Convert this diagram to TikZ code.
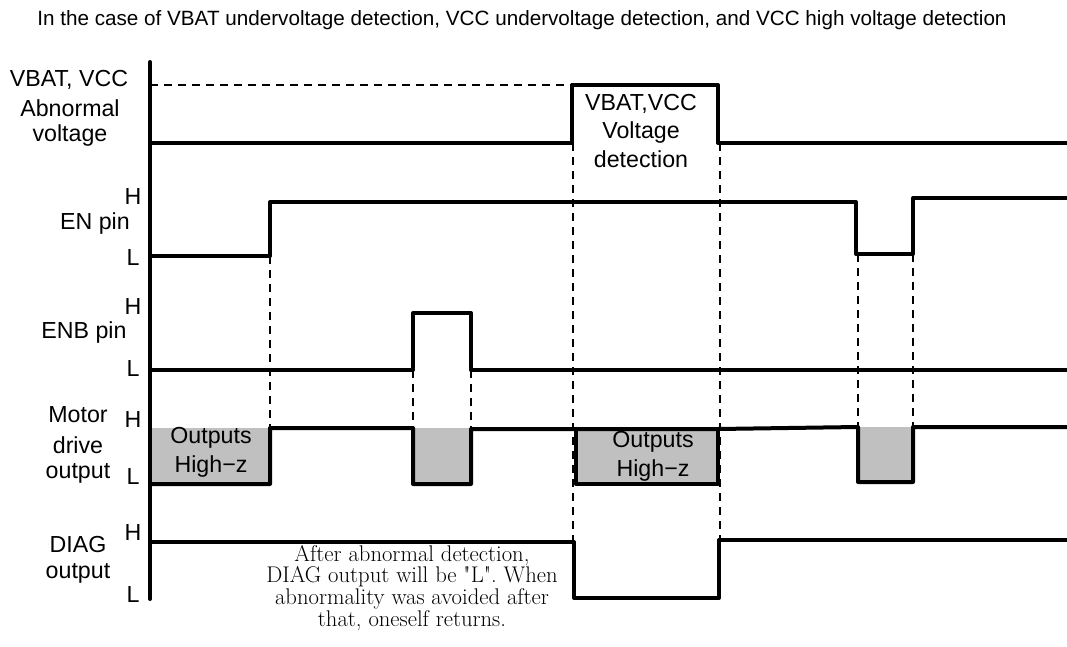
\documentclass[tikz,border=0pt]{standalone}
\usepackage{fontspec}
\setsansfont{Liberation Sans}
\usetikzlibrary{calc}
\definecolor{hizgray}{HTML}{C0C0C0}
\tikzset{
  sig/.style={line width=3pt, line join=round, line cap=round},
  guide/.style={line width=0.8pt, dash pattern=on 6pt off 4.5pt},
  lbl/.style={font=\sffamily\fontsize{17.4}{20}\selectfont, inner sep=0pt, align=center},
  lvl/.style={font=\sffamily\fontsize{17.4}{20}\selectfont, inner sep=0pt},
  boxtxt/.style={font=\sffamily\fontsize{17.4}{21.5}\selectfont, inner sep=0pt, align=center},
  note/.style={font=\rmfamily\fontsize{17}{16.3}\selectfont, inner sep=0pt, align=center},
  hiz/.style={fill=hizgray, draw=none}
}
\begin{document}
\begin{tikzpicture}[x=0.75pt, y=-0.75pt]
\useasboundingbox (0,0) rectangle (1067,646);

% title
\node[font=\sffamily\fontsize{15.5}{18}\selectfont, inner sep=0pt] (title) at (522,20)
  {In the case of VBAT undervoltage detection, VCC undervoltage detection, and VCC high voltage detection};

% left labels
\node[lbl] (vbl1) at (69,80) {VBAT, VCC};
\node[lbl] (vbl2) at (70,108) {Abnormal};
\node[lbl] (vbl3) at (70,135) {voltage};

\node[lvl] (enH) at (133,197) {H};
\node[lbl] (enl) at (95,223) {EN pin};
\node[lvl] (enL) at (133,258) {L};

\node[lvl] (enbH) at (133,307) {H};
\node[lbl] (enbl) at (84,332) {ENB pin};
\node[lvl] (enbL) at (133,369) {L};

\node[lbl] (mo1) at (78,415) {Motor};
\node[lbl] (mo2) at (78,445) {drive};
\node[lbl] (mo3) at (78,473) {output};
\node[lvl] (moH) at (133,420) {H};
\node[lvl] (moL) at (133,477) {L};

\node[lbl] (dg1) at (78,545) {DIAG};
\node[lbl] (dg2) at (78,573) {output};
\node[lvl] (dgH) at (133,533) {H};
\node[lvl] (dgL) at (133,595) {L};

% high-z fills
\fill[hiz] (150,428) rectangle (270,484);
\fill[hiz] (413,428) rectangle (471,484);
\fill[hiz] (576,430) rectangle (718,484);
\fill[hiz] (858,427) rectangle (913,482);

% guide coordinates
\coordinate (g1t) at (270,256); \coordinate (g1b) at (270,428);
\coordinate (g2t) at (413,370); \coordinate (g2b) at (413,428);
\coordinate (g3t) at (471,370); \coordinate (g3b) at (471,428);
\coordinate (g4t) at (573,143); \coordinate (g4b) at (573,542);
\coordinate (g5t) at (720,143); \coordinate (g5b) at (720,540);
\coordinate (g6t) at (858,254); \coordinate (g6b) at (858,427);
\coordinate (g7t) at (913,254); \coordinate (g7b) at (913,427);
\coordinate (topL) at (150,85); \coordinate (topR) at (572,85);

% dashed guides
\draw[guide] (topL) -- (topR);
\foreach \g in {1,...,7} { \draw[guide] (g\g t) -- (g\g b); }

% axis
\coordinate (axT) at (150,62); \coordinate (axB) at (150,599);
\draw[sig] (axT) -- (axB);

% VBAT/VCC abnormal voltage
\draw[sig] (150,143) -- (572,143) -- (572,85) -- (718,85) -- (718,143) -- (1067,143);
% EN pin
\draw[sig] (150,256) -- (270,256) -- (270,202) -- (856,202) -- (856,254) -- (913,254) -- (913,198) -- (1067,198);
% ENB pin
\draw[sig] (150,370) -- (413,370) -- (413,313) -- (471,313) -- (471,370) -- (1067,370);
% Motor drive output
\draw[sig] (150,484) -- (270,484) -- (270,428) -- (413,428) -- (413,484) -- (471,484) -- (471,429)
  -- (718,429) -- (858,427) -- (858,482) -- (913,482) -- (913,427) -- (1067,427);
\draw[sig] (576,430) -- (576,484) -- (718,484) -- (718,429);
% DIAG output
\draw[sig] (150,542) -- (574,542) -- (574,598) -- (719,598) -- (719,540) -- (1067,540);

% texts inside
\node[boxtxt] (hz1) at (211,452) {Outputs\\High−z};
\node[boxtxt] (hz2) at (653,456) {Outputs\\High−z};
\node[boxtxt] (vd) at (641,131) {VBAT,VCC\\Voltage\\detection};

\node[note] (nt) at (412,588) {After abnormal detection,\\DIAG output will be \textquotedbl L\textquotedbl. When\\abnormality was avoided after\\that, oneself returns.};
\end{tikzpicture}
\end{document}
